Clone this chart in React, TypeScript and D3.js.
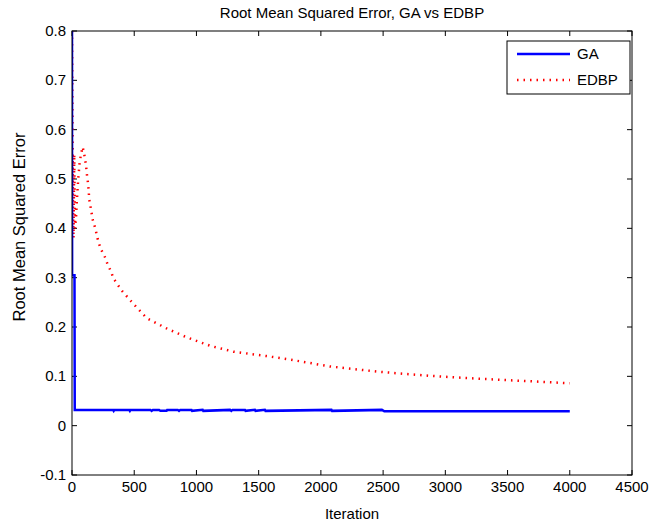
import * as d3 from 'd3'

// iterations / values
const gaIter = [0, 1, 20, 22, 330, 335, 340, 460, 465, 470, 630, 640, 650, 700, 710, 760, 765, 850, 860, 870, 960, 965, 1050, 1055, 1270, 1280, 1290, 1390, 1395, 1470, 1475, 1550, 1555, 2085, 2090, 2490, 2510, 4000]
const gaVal = [0.8, 0.305, 0.305, 0.032, 0.032, 0.03, 0.032, 0.032, 0.03, 0.032, 0.032, 0.03, 0.032, 0.032, 0.03, 0.03, 0.032, 0.032, 0.03, 0.032, 0.032, 0.03, 0.032, 0.03, 0.032, 0.03, 0.032, 0.032, 0.03, 0.032, 0.03, 0.032, 0.03, 0.032, 0.03, 0.032, 0.029, 0.029]

const edbpIter = [0, 4, 8, 12, 18, 24, 32, 40, 50, 60, 72, 86, 99, 112, 120, 130, 139, 153, 166, 187, 206, 228, 268, 287, 313, 332, 399, 493, 600, 761, 922, 1109, 1296, 1564, 1752, 2073, 2475, 2877, 3279, 3680, 4000]
const edbpVal = [0.8, 0.62, 0.45, 0.38, 0.55, 0.4, 0.42, 0.46, 0.5, 0.53, 0.55, 0.565, 0.549, 0.529, 0.509, 0.489, 0.458, 0.438, 0.418, 0.4, 0.379, 0.36, 0.34, 0.326, 0.313, 0.299, 0.274, 0.247, 0.218, 0.197, 0.179, 0.162, 0.15, 0.141, 0.134, 0.12, 0.109, 0.101, 0.095, 0.09, 0.086]

const xTicks = [0, 500, 1000, 1500, 2000, 2500, 3000, 3500, 4000, 4500]
const yTicks = [-0.1, 0, 0.1, 0.2, 0.3, 0.4, 0.5, 0.6, 0.7, 0.8]
const yTickLabels = ['-0.1', '0', '0.1', '0.2', '0.3', '0.4', '0.5', '0.6', '0.7', '0.8']

const W = 655
const H = 527
const left = 72, right = 632, top = 31, bottom = 475
const font = '"Liberation Sans", Arial, sans-serif'
const fs = 15

export default function App() {
  const x = d3.scaleLinear().domain([0, 4500]).range([left, right])
  const y = d3.scaleLinear().domain([-0.1, 0.8]).range([bottom, top])

  const line = d3.line<[number, number]>()
    .x(d => x(d[0]))
    .y(d => y(d[1]))

  const ga = gaIter.map((it, i) => [it, gaVal[i]] as [number, number])
  const edbp = edbpIter.map((it, i) => [it, edbpVal[i]] as [number, number])

  const tickLen = 5

  return (
    <svg width={W} height={H} style={{ position: 'absolute', left: 0, top: 0, background: '#fff' }}
      fontFamily={font}>
      <rect x={0} y={0} width={W} height={H} fill="#fff" />

      <defs>
        <clipPath id="plot">
          <rect x={left} y={top} width={right - left} height={bottom - top} />
        </clipPath>
      </defs>

      {/* ticks point inward on all four sides */}
      {xTicks.map(t => (
        <g key={'x' + t}>
          <line x1={x(t)} x2={x(t)} y1={bottom} y2={bottom - tickLen} stroke="#000" />
          <line x1={x(t)} x2={x(t)} y1={top} y2={top + tickLen} stroke="#000" />
          <text x={x(t)} y={bottom + 17} fontSize={fs} textAnchor="middle" fill="#000">{t}</text>
        </g>
      ))}
      {yTicks.map((t, i) => (
        <g key={'y' + t}>
          <line x1={left} x2={left + tickLen} y1={y(t)} y2={y(t)} stroke="#000" />
          <line x1={right} x2={right - tickLen} y1={y(t)} y2={y(t)} stroke="#000" />
          <text x={left - 6} y={y(t) + 5} fontSize={fs} textAnchor="end" fill="#000">{yTickLabels[i]}</text>
        </g>
      ))}

      <g clipPath="url(#plot)">
        <path d={line(edbp) || ''} fill="none" stroke="#ff0000" strokeWidth={2.5} strokeDasharray="1.5,5" />
        <path d={line(ga) || ''} fill="none" stroke="#0000ff" strokeWidth={2.5} />
      </g>

      <rect x={left} y={top} width={right - left} height={bottom - top} fill="none" stroke="#000" strokeWidth={1} />

      {/* legend */}
      <rect x={507} y={41} width={123} height={53} fill="#fff" stroke="#000" />
      <line x1={517} x2={570} y1={54} y2={54} stroke="#0000ff" strokeWidth={2.5} />
      <text x={577} y={59} fontSize={fs} fill="#000">GA</text>
      <line x1={517} x2={570} y1={80} y2={80} stroke="#ff0000" strokeWidth={2.5} strokeDasharray="1.5,5" />
      <text x={577} y={85} fontSize={fs} fill="#000">EDBP</text>

      <text x={(left + right) / 2} y={18} fontSize={fs} textAnchor="middle" fill="#000">
        Root Mean Squared Error, GA vs EDBP
      </text>
      <text x={(left + right) / 2} y={519} fontSize={fs} textAnchor="middle" fill="#000">Iteration</text>
      <text transform={`translate(25,227) rotate(-90)`} fontSize={16.5} textAnchor="middle" fill="#000">
        Root Mean Squared Error
      </text>
    </svg>
  )
}
